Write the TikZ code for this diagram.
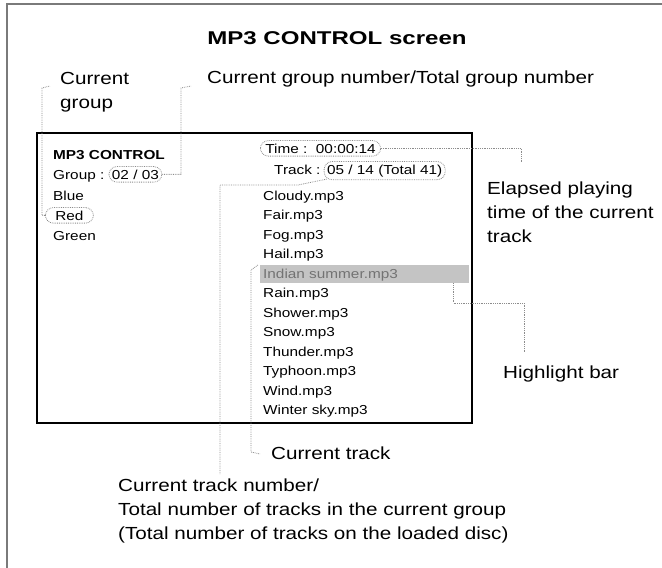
\documentclass[tikz,border=0pt]{standalone}
\usepackage{fontspec}
\setmainfont{Liberation Sans}
\newfontfamily\labelfont[FakeStretch=1.18]{Liberation Sans}
\newfontfamily\screenfont[FakeStretch=1.18]{Liberation Sans}
\newfontfamily\headfont[FakeStretch=1.3]{Liberation Sans}
\usetikzlibrary{positioning, calc}
\definecolor{framegray}{HTML}{7A7A7A}
\definecolor{leadgray}{HTML}{8C8C8C}
\definecolor{barfill}{HTML}{C4C4C4}

\begin{document}
\begin{tikzpicture}[x=1pt, y=-1pt,
  headline/.style={font=\headfont\bfseries\fontsize{18.5}{22}\selectfont, inner sep=0pt},
  callout/.style={font=\labelfont\fontsize{17.5}{24}\selectfont, inner sep=0pt, align=left},
  screentext/.style={font=\screenfont\fontsize{13}{16}\selectfont, inner sep=0pt, anchor=base west},
  ring/.style={draw=leadgray, densely dotted, line width=0.8pt, rounded corners=8pt,
    inner xsep=3pt, inner ysep=3pt},
  lead/.style={draw=leadgray, densely dotted, line width=0.8pt},
  hlbarbox/.style={fill=barfill, inner sep=0pt, minimum width=209pt, minimum height=18pt,
    anchor=north west}]
  \useasboundingbox (0,0) rectangle (662,568);
  \clip (0,0) rectangle (662,568);

  % Outer frame
  \draw[framegray, line width=1.4pt] (7,4) rectangle (700,600);

  % Title
  \node[headline] (title) at (337,38) {MP3 CONTROL screen};

  % Screen outline
  \draw[line width=1.3pt] (37,133) rectangle (472,423);

  % Group side
  \node[screentext, font=\screenfont\bfseries\fontsize{13}{16}\selectfont] (mp3) at (53,159) {MP3 CONTROL};
  \node[screentext] (grp) at (53,179) {Group :};
  \node[screentext, ring] (grpnum) at ($(grp.base east)+(4,0)$) {02 / 03};
  \node[screentext] (blue) at (53,200) {Blue};
  \node[screentext, ring, minimum width=48pt] (red) at (45,220) {Red};
  \node[screentext] (green) at (53,240) {Green};

  % Playing info
  \node[screentext, ring, inner xsep=5pt] (time) at (260,153) {Time :\ \ 00:00:14};
  \node[screentext] (track) at (274,174) {Track :};
  \node[screentext, ring] (trknum) at ($(track.base east)+(3,0)$) {05 / 14 (Total 41)};

  % Track list with highlight bar
  \node[hlbarbox] (hlbar) at (260,265) {};
  \foreach \fname [count=\i from 0] in {Cloudy, Fair, Fog, Hail, Indian summer, Rain,
      Shower, Snow, Thunder, Typhoon, Wind, Winter sky} {
    \pgfmathtruncatemacro\shade{\i==4 ? 55 : 100}
    \node[screentext, text=black!\shade] (file\i) at (263,200+19.5*\i) {\fname.mp3};
  }

  % Callout texts
  \node[callout, anchor=north west] (curgrp) at (60,72) {Current\\group};
  \node[callout, anchor=base west] (grpinfo) at (207,83) {Current group number/Total group number};
  \node[callout, anchor=north west] (elapsed) at (487,182) {Elapsed playing\\time of the current\\track};
  \node[callout, anchor=base west] (hllabel) at (503,378) {Highlight bar};
  \node[callout, anchor=base west] (curtrk) at (271,459) {Current track};
  \node[callout, anchor=north west] (trkinfo) at (118,478.5) {Current track number/\\Total number of tracks in the current group\\(Total number of tracks on the loaded disc)};

  % Leader lines
  \coordinate (cgtop) at (42,88);
  \draw[lead] (red.west) -| (cgtop) -- ++(8,-2);
  \coordinate (gntop) at (181,88);
  \draw[lead] (grpnum.east) -| (gntop) -- ++(10,-2);
  \coordinate (eltip) at (521,163);
  \draw[lead] (time.east) -| (eltip);
  \coordinate (tnbend) at (220,185);
  \coordinate (tnend) at (220,474);
  \draw[lead] ($(trknum.south west)+(3,-1)$) -- ($(tnbend)+(78,0)$) -- (tnbend) -- (tnend);
  \coordinate (ctbot) at (251,452);
  \draw[lead] ([xshift=-2pt]hlbar.north west) -- ++(-7,5) -- (ctbot) -- ++(9,2);
  \coordinate (hbbend) at (524,303);
  \coordinate (hbtip) at (524,353);
  \draw[lead] ([xshift=-16pt]hlbar.south east) |- (hbbend) -- (hbtip);
\end{tikzpicture}
\end{document}
